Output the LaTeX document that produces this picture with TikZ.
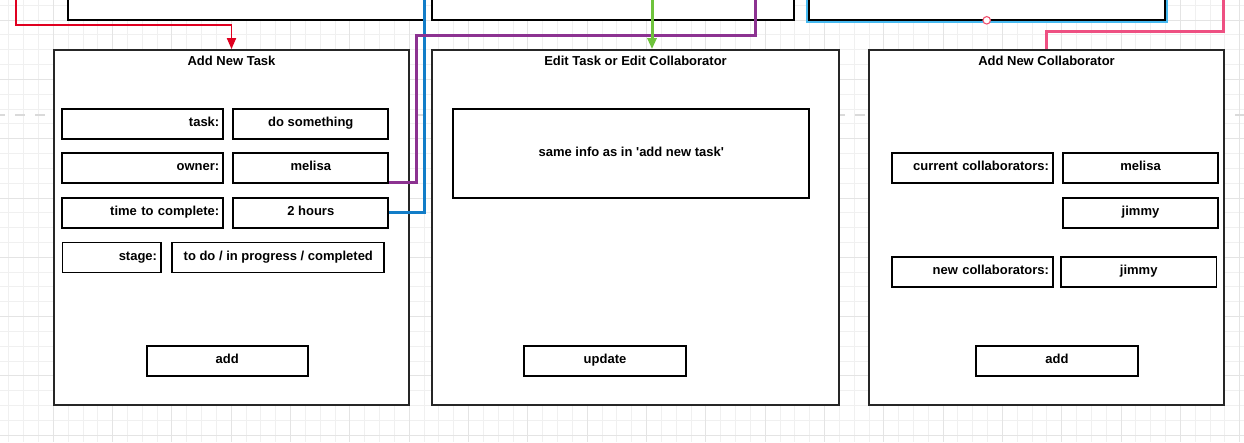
\documentclass[tikz,border=0pt]{standalone}
\usepackage{fontspec}
\setmainfont{Liberation Sans}
\usetikzlibrary{arrows.meta,calc}
\definecolor{gridminor}{RGB}{240,240,240}
\definecolor{gridmajor}{RGB}{228,228,228}
\definecolor{pagebreak}{RGB}{218,218,218}
\definecolor{linered}{RGB}{224,0,32}
\definecolor{lineblue}{RGB}{18,125,200}
\definecolor{linepurple}{RGB}{140,50,145}
\definecolor{linegreen}{RGB}{110,195,60}
\definecolor{linepink}{RGB}{238,80,130}
\definecolor{selblue}{RGB}{70,185,240}
\definecolor{handle}{RGB}{240,80,110}
\begin{document}
\begin{tikzpicture}[x=1pt,y=-1pt,
  font=\fontsize{13}{15}\selectfont\bfseries,
  panel/.style={draw=black!85, line width=1.8pt, fill=white, inner sep=0pt},
  box/.style={draw=black, line width=1.7pt, fill=white, minimum height=30pt,
    text height=9pt, text depth=4pt, inner sep=0pt, align=center},
  lbl/.style={box, text width=#1, align=right, inner xsep=4pt},
  val/.style={box, minimum width=#1},
  title/.style={anchor=base, inner sep=0pt},
  conn/.style={line width=3pt},
  tip/.style={-{Triangle[width=9pt,length=11pt]}}
]
\clip (0,0) rectangle (1244,442);
\fill[white] (0,0) rectangle (1244,442);
% grid
\foreach \i in {0,...,83} {\draw[gridminor, line width=0.9pt] ({8.81+14.83*\i},0) -- ({8.81+14.83*\i},442);}
\foreach \j in {0,...,29} {\draw[gridminor, line width=0.9pt] (0,{5.17+14.83*\j}) -- (1244,{5.17+14.83*\j});}
\foreach \i in {1,...,21} {\draw[gridmajor, line width=0.9pt] ({-6.02+59.32*\i},0) -- ({-6.02+59.32*\i},442);}
\foreach \j in {1,...,8} {\draw[gridmajor, line width=0.9pt] (0,{-39.32+59.32*\j}) -- (1244,{-39.32+59.32*\j});}
% page break line
\draw[pagebreak, line width=2.2pt, dash pattern=on 10pt off 10pt, dash phase=5pt] (0,115) -- (1244,115);

% top boxes (cut off)
\node[box, minimum width=356, minimum height=60] (topA) at (246,-10) {};
\node[box, minimum width=362, minimum height=60] (topB) at (613,-10) {};
\node[draw=selblue, line width=2pt, minimum width=360, minimum height=62, inner sep=0pt] (selC) at (987,-9) {};
\node[box, minimum width=356, minimum height=60] (topC) at (987,-10) {};
\node[circle, draw=handle, fill=white, line width=1.1pt, minimum size=7.5pt, inner sep=0pt] (hdl) at (986.7,20.3) {};

% panel 1
\node[panel, minimum width=355, minimum height=355] (p1) at (231.5,227.5) {};
\node[title] (t1) at (231.5,65) {Add New Task};
\node[lbl=153] (taskL) at (142.8,124) {task:};
\node[val=155] (taskV) at (310.8,124) {do something};
\node[lbl=153] (ownerL) at (142.8,168.3) {owner:};
\node[val=155] (ownerV) at (310.8,168.3) {melisa};
\node[lbl=153] (timeL) at (142.8,212.7) {time to complete:};
\node[val=155] (timeV) at (310.8,212.7) {2 hours};
\node[lbl=90.7] (stageL) at (111.7,257.5) {stage:};
\node[val=212] (stageV) at (278.3,257.5) {to do / in progress / completed};
\node[val=161.3] (addT) at (227.3,361) {add};

% panel 2
\node[panel, minimum width=407, minimum height=355] (p2) at (635.5,227.5) {};
\node[title] (t2) at (635.5,65) {Edit Task or Edit Collaborator};
\node[box, minimum width=356, minimum height=89] (same) at (631.3,153.5) {same info as in \textquotesingle add new task\textquotesingle};
\node[val=161.4] (upd) at (605,361) {update};

% panel 3
\node[panel, minimum width=355, minimum height=355] (p3) at (1046.5,227.5) {};
\node[title] (t3) at (1046.5,65) {Add New Collaborator};
\node[lbl=153.3] (curL) at (972.3,168.3) {current collaborators:};
\node[val=155.6] (curV1) at (1140.5,168.3) {melisa};
\node[val=155.6] (curV2) at (1140.5,213) {jimmy};
\node[lbl=153.3] (newL) at (972.3,272) {new collaborators:};
\node[val=155.3] (newV) at (1138.7,272) {jimmy};
\node[val=162] (addC) at (1057,361) {add};

% connectors
\coordinate (redsrc) at (16,-2);
\coordinate (bluesrc) at (424,-2);
\coordinate (purpturn) at (416.5,35);
\coordinate (purpsrc) at (755,-2);
\coordinate (greensrc) at (652,-2);
\coordinate (pinksrc) at (1223,-2);

\draw[linered, line width=1.8pt, tip] (redsrc) |- ([yshift=24pt]p1.north) -- (p1.north);
\draw[lineblue, conn] (bluesrc) |- (timeV.east);
\draw[linepurple, conn] ([yshift=1.5pt]ownerV.south east) -| (purpturn) -| (purpsrc);
\draw[linegreen, conn, tip] (greensrc) -- (greensrc |- p2.north);
\draw[linepink, conn] (pinksrc) |- ([yshift=18pt]p3.north) -- (p3.north);
\end{tikzpicture}
\end{document}
